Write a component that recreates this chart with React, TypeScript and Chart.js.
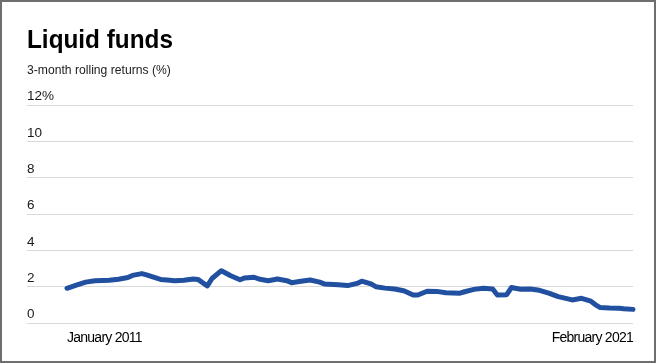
import React, { useEffect, useRef } from "react";
import { Chart, registerables } from "chart.js";

Chart.register(...registerables);

// Months since January 2011
const monthOffsets = [
  0, 2, 4, 6, 9, 11, 13, 14, 16, 17, 19, 20, 22, 23, 25, 27, 28, 30, 31, 33,
  35, 37, 38, 40, 41, 43, 45, 47, 48, 50, 52, 54, 55, 58, 60, 62, 63, 65, 66,
  68, 70, 72, 74, 75, 77, 79, 81, 84, 85, 87, 89, 91, 92, 94, 95, 97, 99, 101,
  103, 105, 108, 110, 112, 113, 114, 116, 118, 119, 121,
];
// 3-month rolling returns (%)
const returns = [
  1.91, 2.08, 2.25, 2.33, 2.35, 2.41, 2.5, 2.62, 2.72, 2.65, 2.48, 2.4, 2.35,
  2.33, 2.35, 2.42, 2.4, 2.04, 2.45, 2.88, 2.6, 2.38, 2.48, 2.52, 2.42, 2.33,
  2.42, 2.33, 2.22, 2.3, 2.37, 2.25, 2.15, 2.1, 2.06, 2.18, 2.3, 2.15, 2.0,
  1.92, 1.87, 1.78, 1.54, 1.54, 1.75, 1.74, 1.66, 1.64, 1.72, 1.85, 1.91, 1.87,
  1.54, 1.56, 1.95, 1.86, 1.87, 1.8, 1.64, 1.45, 1.27, 1.36, 1.2, 1.0, 0.85,
  0.82, 0.81, 0.78, 0.75,
];
const xTickValues = [0, 121];
const xTickLabels = ["January 2011", "February 2021"];
const yTicks = [0, 2, 4, 6, 8, 10, 12];

const TITLE = "Liquid funds";
const SUBTITLE = "3-month rolling returns (%)";

const spacingPlugin = {
  id: "xLabelSpacing",
  afterDatasetsDraw(chart: any) {
    chart.ctx.letterSpacing = "-0.75px";
  },
  afterDraw(chart: any) {
    chart.ctx.letterSpacing = "0px";
  },
};

export default function App() {
  const ref = useRef<HTMLCanvasElement | null>(null);

  useEffect(() => {
    if (!ref.current) return;
    const chart = new Chart(ref.current, {
      type: "line",
      data: {
        datasets: [
          {
            data: monthOffsets.map((m, i) => ({ x: m, y: returns[i] })),
            borderColor: "#2150a0",
            borderWidth: 5,
            pointRadius: 0,
            tension: 0,
            borderJoinStyle: "round",
            borderCapStyle: "round",
            fill: false,
            clip: false as any,
          },
        ],
      },
      options: {
        animation: false,
        responsive: false,
        events: [],
        layout: { padding: { left: 27, right: 27, top: 105, bottom: 0 } },
        plugins: { legend: { display: false }, tooltip: { enabled: false } },
        scales: {
          x: {
            type: "linear",
            min: -8.55,
            max: 121,
            grid: { display: false, drawTicks: false },
            border: { display: false },
            afterBuildTicks: (s: any) => {
              s.ticks = xTickValues.map((v) => ({ value: v }));
            },
            afterFit: (s: any) => {
              s.height = 41;
            },
            ticks: {
              z: 1,
              autoSkip: false,
              maxRotation: 0,
              align: "inner",
              padding: 7,
              color: "#000",
              font: { family: "'Liberation Sans', Arial, sans-serif", size: 14 },
              callback: (v: any) => {
                const idx = xTickValues.indexOf(Number(v));
                return idx >= 0 ? xTickLabels[idx] : "";
              },
            },
          },
          y: {
            min: 0,
            max: 12,
            afterBuildTicks: (s: any) => {
              s.ticks = yTicks.map((v) => ({ value: v }));
            },
            afterFit: (s: any) => {
              s.width = 0;
            },
            grid: { color: "#d9d9d9", lineWidth: 1, drawTicks: false },
            border: { display: false },
            ticks: {
              mirror: true,
              padding: 0,
              labelOffset: -8.5,
              color: "#1a1a1a",
              font: { family: "'Liberation Sans', Arial, sans-serif", size: 13.5 },
              callback: (v: any) => (Number(v) === 12 ? "12%" : String(v)),
            },
          },
        },
      },
      plugins: [spacingPlugin],
    });
    return () => chart.destroy();
  }, []);

  return (
    <div
      style={{
        position: "fixed",
        left: 0,
        top: 0,
        width: 660,
        height: 364,
        background: "#fff",
        overflow: "hidden",
      }}
    >
      <canvas ref={ref} width={660} height={364} style={{ position: "absolute", left: 0, top: 0 }} />
      <div
        style={{
          position: "absolute",
          left: 0,
          top: 0,
          width: 656,
          height: 363,
          boxSizing: "border-box",
          border: "2px solid #6e6e6e",
          pointerEvents: "none",
        }}
      />
      <div
        style={{
          position: "absolute",
          left: 27,
          top: 25.5,
          fontFamily: "'Liberation Sans', Arial, sans-serif",
          fontWeight: 700,
          fontSize: 26,
          lineHeight: 1,
          color: "#000",
          whiteSpace: "nowrap",
          transform: "scaleX(0.936)",
          transformOrigin: "left top",
        }}
      >
        {TITLE}
      </div>
      <div
        style={{
          position: "absolute",
          left: 27,
          top: 63.3,
          fontFamily: "'Liberation Sans', Arial, sans-serif",
          fontSize: 13.5,
          lineHeight: 1,
          color: "#1a1a1a",
          whiteSpace: "nowrap",
          transform: "scaleX(0.9)",
          transformOrigin: "left top",
        }}
      >
        {SUBTITLE}
      </div>
    </div>
  );
}
